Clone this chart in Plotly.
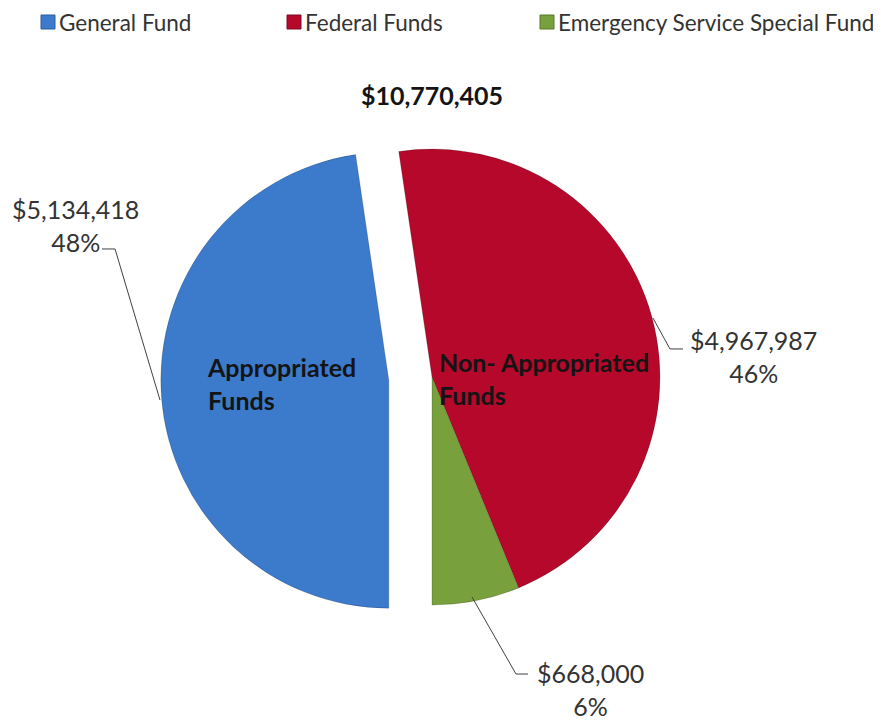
import plotly.graph_objects as go

W, H = 881, 723
OFF = 8  # page body margin in the browser shifts the figure by 8px

# ---- data ----
funds = ['General Fund', 'Federal Funds', 'Emergency Service Special Fund']
amounts = [5134418, 4967987, 668000]
pulls = [0.19, 0, 0]
colors = ['#3C7BCB', '#B5082B', '#78A03C']
edges = ['#2A5C9E', '#7E0A22', '#56762A']
groups = ['Appropriated<br>Funds', 'Non- Appropriated<br>Funds']

total = sum(amounts)
FONT = 'Lato'
TXT = '#333333'


def px(x):
    return (x - OFF) / W


def py(y):
    return 1 - (y - OFF) / H


fig = go.Figure()

# pie centre at (432, 377), radius ~228 -> box half-size 228 * 1.19
cx, cy, half = 432, 377, 271.3
fig.add_trace(
    go.Pie(
        labels=funds,
        values=amounts,
        pull=pulls,
        sort=False,
        direction='clockwise',
        rotation=180,
        marker=dict(colors=colors, line=dict(width=1, color='rgba(0,0,0,0.18)')),
        textinfo='none',
        hoverinfo='label+value+percent',
        showlegend=False,
        domain=dict(x=[px(cx - half), px(cx + half)],
                    y=[py(cy + half), py(cy - half)]),
    )
)

# legend drawn as swatches + names across the top
legend_x = [41, 287, 540]
for name, c, e, x in zip(funds, colors, edges, legend_x):
    fig.add_shape(type='rect', xref='paper', yref='paper',
                  x0=px(x), x1=px(x + 14), y0=py(29), y1=py(15),
                  fillcolor=c, line=dict(color=e, width=1))
    fig.add_annotation(
        x=px(x + 17), y=py(22), xref='paper', yref='paper',
        text=name, showarrow=False, xanchor='left', yanchor='middle',
        borderpad=0,
        font=dict(family=FONT, size=22.5, color=TXT),
    )

# outside value labels (amount + percent) with leader lines
label_pos = [(75, 225), (753, 356), (590, 689)]
for amt, (x, y) in zip(amounts, label_pos):
    fig.add_annotation(
        x=px(x), y=py(y), xref='paper', yref='paper',
        text='${:,}<br>{:.0f}%'.format(amt, amt / total * 100),
        showarrow=False, xanchor='center', yanchor='middle', align='center',
        borderpad=0,
        font=dict(family=FONT, size=25, color=TXT),
    )

leaders = [
    [(102, 249), (115, 249), (160, 400)],
    [(653, 318), (670, 349), (683, 349)],
    [(472, 597), (516, 674), (528, 674)],
]
for pts in leaders:
    path = 'M ' + ' L '.join('{:.4f},{:.4f}'.format(px(a), py(b)) for a, b in pts)
    fig.add_shape(type='path', path=path, xref='paper', yref='paper',
                  line=dict(color='#404040', width=1))

# group labels inside the pie
group_pos = [(205, 383), (437, 379)]
for g, (x, y) in zip(groups, group_pos):
    fig.add_annotation(
        x=px(x), y=py(y), xref='paper', yref='paper',
        text='<b>' + g + '</b>',
        showarrow=False, xanchor='left', yanchor='middle', align='left',
        font=dict(family=FONT, size=25, color='#141414'),
    )

fig.update_layout(
    width=W,
    height=H,
    margin=dict(l=0, r=0, t=0, b=0, autoexpand=False),
    paper_bgcolor='white',
    plot_bgcolor='white',
    font=dict(family=FONT, color=TXT),
    title=dict(
        text='<b>${:,}</b>'.format(total),
        x=px(432), y=py(96), xanchor='center', yanchor='middle',
        font=dict(family=FONT, size=25, color='#141414'),
    ),
    showlegend=False,
)

fig.write_html('out.html')
